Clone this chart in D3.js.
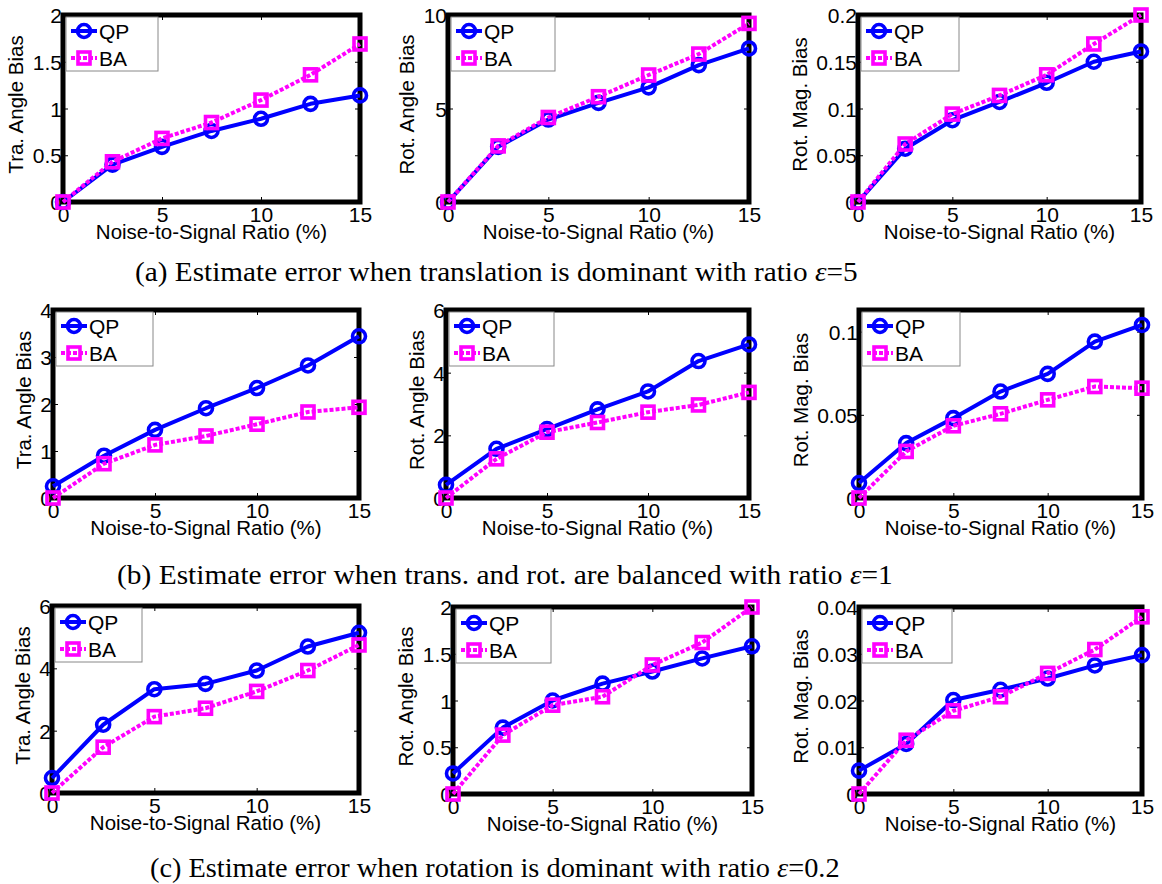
<!DOCTYPE html>
<html>
<head>
<meta charset="utf-8">
<script src="https://cdn.jsdelivr.net/npm/d3@7/dist/d3.min.js"></script>
<style>
  html, body { margin: 0; padding: 0; background: #fff; }
  svg { display: block; }
</style>
</head>
<body>
<script>
// ---------------- DATA ----------------
const xValues = [0, 2.5, 5, 7.5, 10, 12.5, 15];
const xTicks = [0, 5, 10, 15];
const seriesNames = ["QP", "BA"];
const xAxisLabel = "Noise-to-Signal Ratio (%)";
const yAxisLabels = ["Tra. Angle Bias", "Rot. Angle Bias", "Rot. Mag. Bias"];

// (a) translation dominant, ratio 5
const qpTraA = [0, 0.40, 0.59, 0.76, 0.89, 1.05, 1.14];
const baTraA = [0, 0.43, 0.68, 0.85, 1.09, 1.36, 1.69];
const qpRotA = [0, 2.95, 4.41, 5.30, 6.13, 7.32, 8.21];
const baRotA = [0, 3.00, 4.52, 5.63, 6.79, 7.91, 9.55];
const qpMagA = [0, 0.057, 0.0875, 0.107, 0.1275, 0.150, 0.161];
const baMagA = [0, 0.062, 0.094, 0.114, 0.136, 0.169, 0.200];

// (b) balanced, ratio 1
const qpTraB = [0.25, 0.90, 1.45, 1.91, 2.34, 2.82, 3.44];
const baTraB = [0, 0.73, 1.13, 1.32, 1.57, 1.83, 1.93];
const qpRotB = [0.42, 1.57, 2.20, 2.83, 3.40, 4.37, 4.90];
const baRotB = [0, 1.25, 2.10, 2.41, 2.74, 2.97, 3.37];
const qpMagB = [0.009, 0.033, 0.048, 0.064, 0.0746, 0.094, 0.104];
const baMagB = [0, 0.028, 0.0434, 0.0506, 0.059, 0.067, 0.066];

// (c) rotation dominant, ratio 0.2
const qpTraC = [0.48, 2.19, 3.33, 3.50, 3.93, 4.70, 5.14];
const baTraC = [0, 1.47, 2.45, 2.72, 3.26, 3.93, 4.75];
const qpRotC = [0.22, 0.71, 1.00, 1.18, 1.31, 1.45, 1.58];
const baRotC = [0, 0.63, 0.95, 1.04, 1.38, 1.62, 2.00];
const qpMagC = [0.005, 0.0107, 0.0201, 0.0223, 0.0247, 0.0275, 0.0297];
const baMagC = [0, 0.0115, 0.0178, 0.0208, 0.0258, 0.0309, 0.0379];

// y domains and tick values
const yDomains = [[0, 2], [0, 10], [0, 0.2], [0, 4], [0, 6], [0, 0.113], [0, 6], [0, 2], [0, 0.04]];
const yTickValues = [
  [0, 0.5, 1, 1.5, 2], [0, 5, 10], [0, 0.05, 0.1, 0.15, 0.2],
  [0, 1, 2, 3, 4], [0, 2, 4, 6], [0, 0.05, 0.1],
  [0, 2, 4, 6], [0, 0.5, 1, 1.5, 2], [0, 0.01, 0.02, 0.03, 0.04]
];
const yTickLabels = [
  ["0", "0.5", "1", "1.5", "2"], ["0", "5", "10"], ["0", "0.05", "0.1", "0.15", "0.2"],
  ["0", "1", "2", "3", "4"], ["0", "2", "4", "6"], ["0", "0.05", "0.1"],
  ["0", "2", "4", "6"], ["0", "0.5", "1", "1.5", "2"], ["0", "0.01", "0.02", "0.03", "0.04"]
];

const captions = [
  {pre: "(a) Estimate error when translation is dominant with ratio ", post: "=5"},
  {pre: "(b) Estimate error when trans. and rot. are balanced with ratio ", post: "=1"},
  {pre: "(c) Estimate error when rotation is dominant with ratio ", post: "=0.2"}
];

const qpSeries = [qpTraA, qpRotA, qpMagA, qpTraB, qpRotB, qpMagB, qpTraC, qpRotC, qpMagC];
const baSeries = [baTraA, baRotA, baMagA, baTraB, baRotB, baMagB, baTraC, baRotC, baMagC];

// ---------------- LAYOUT ----------------
const boxes = [
  {l: 63, r: 360, t: 15, b: 202, lw: 92},
  {l: 448, r: 749, t: 15, b: 202, lw: 104},
  {l: 858, r: 1141, t: 15, b: 202, lw: 98},
  {l: 53, r: 359, t: 310, b: 498, lw: 97},
  {l: 446, r: 749, t: 310, b: 498, lw: 105},
  {l: 859, r: 1142, t: 310, b: 498, lw: 98},
  {l: 52, r: 359, t: 606, b: 793, lw: 87},
  {l: 453, r: 752, t: 607, b: 794, lw: 95},
  {l: 859, r: 1142, t: 607, b: 794, lw: 90}
];
const captionPos = [
  {x1: 135, x2: 858, y: 281},
  {x1: 117, x2: 893, y: 584},
  {x1: 150, x2: 840, y: 877}
];

const BLUE = "#0000ff", MAG = "#ff00ff";
const SANS = "'Liberation Sans', Arial, Helvetica, sans-serif";
const SERIF = "'Liberation Serif', 'Times New Roman', serif";

const svg = d3.select("body").append("svg").attr("width", 1162).attr("height", 884);
svg.append("rect").attr("width", 1162).attr("height", 884).attr("fill", "#fff");

function drawCircle(g, cx, cy) {
  g.append("circle").attr("cx", cx).attr("cy", cy).attr("r", 6.5)
    .attr("fill", "none").attr("stroke", BLUE).attr("stroke-width", 3.6);
}
function drawSquare(g, cx, cy) {
  g.append("rect").attr("x", cx - 6).attr("y", cy - 6).attr("width", 12).attr("height", 12)
    .attr("fill", "none").attr("stroke", MAG).attr("stroke-width", 3.6);
}

boxes.forEach((p, i) => {
  const g = svg.append("g");
  const x = d3.scaleLinear().domain([0, 15]).range([p.l, p.r]);
  const y = d3.scaleLinear().domain(yDomains[i]).range([p.b, p.t]);
  const labels = yTickLabels[i];

  // axes
  const gx = g.append("g").attr("transform", `translate(0,${p.b})`)
    .call(d3.axisBottom(x).tickValues(xTicks).tickFormat(d3.format("d"))
      .tickSizeInner(-5).tickSizeOuter(0).tickPadding(5));
  const gy = g.append("g").attr("transform", `translate(${p.l},0)`)
    .call(d3.axisLeft(y).tickValues(yTickValues[i]).tickFormat((d, k) => labels[k])
      .tickSizeInner(-5).tickSizeOuter(0).tickPadding(1));
  g.append("g").attr("transform", `translate(0,${p.t})`)
    .call(d3.axisTop(x).tickValues(xTicks).tickFormat("").tickSizeInner(-5).tickSizeOuter(0));
  g.append("g").attr("transform", `translate(${p.r},0)`)
    .call(d3.axisRight(y).tickValues(yTickValues[i]).tickFormat("").tickSizeInner(-5).tickSizeOuter(0));
  g.selectAll(".domain").remove();
  g.selectAll(".tick line").attr("stroke", "#000").attr("stroke-width", 1);
  g.selectAll(".tick text").attr("font-family", SANS).attr("font-size", 21).attr("fill", "#000");
  gy.selectAll(".tick text").attr("dy", "0.36em");

  // axis labels
  let maxW = 0;
  gy.selectAll(".tick text").each(function () { maxW = Math.max(maxW, this.getComputedTextLength()); });
  g.append("text").attr("x", (p.l + p.r) / 2).attr("y", p.b + 37)
    .attr("text-anchor", "middle").attr("font-family", SANS).attr("font-size", 20.5)
    .text(xAxisLabel);
  const ly = (p.t + p.b) / 2 - 4;
  const lx = p.l - maxW - 4 - 14;
  g.append("text").attr("transform", `translate(${lx},${ly}) rotate(-90)`)
    .attr("text-anchor", "middle").attr("dominant-baseline", "central")
    .attr("font-family", SANS).attr("font-size", 20.5)
    .text(yAxisLabels[i % 3]);

  // frame
  g.append("rect").attr("x", p.l).attr("y", p.t).attr("width", p.r - p.l).attr("height", p.b - p.t)
    .attr("fill", "none").attr("stroke", "#000").attr("stroke-width", 5);

  // legend
  const lgx = p.l + 3, lgy = p.t + 2;
  const lg = g.append("g");
  lg.append("rect").attr("x", lgx).attr("y", lgy).attr("width", p.lw).attr("height", 54)
    .attr("fill", "#fff").attr("stroke", "#888").attr("stroke-width", 1);
  const rows = [lgy + 14, lgy + 41];
  lg.append("line").attr("x1", lgx + 5).attr("x2", lgx + 31).attr("y1", rows[0]).attr("y2", rows[0])
    .attr("stroke", BLUE).attr("stroke-width", 4);
  drawCircle(lg, lgx + 18, rows[0]);
  lg.append("line").attr("x1", lgx + 5).attr("x2", lgx + 31).attr("y1", rows[1]).attr("y2", rows[1])
    .attr("stroke", MAG).attr("stroke-width", 4).attr("stroke-dasharray", "4,2");
  drawSquare(lg, lgx + 18, rows[1]);
  seriesNames.forEach((n, k) => {
    lg.append("text").attr("x", lgx + 33).attr("y", rows[k]).attr("dy", "0.36em")
      .attr("font-family", SANS).attr("font-size", 21).text(n);
  });

  // series
  const line = d3.line().x((d, k) => x(xValues[k])).y(d => y(d));
  const qp = qpSeries[i], ba = baSeries[i];
  g.append("path").attr("d", line(qp)).attr("fill", "none").attr("stroke", BLUE)
    .attr("stroke-width", 4).attr("stroke-linejoin", "round");
  qp.forEach((v, k) => drawCircle(g, x(xValues[k]), y(v)));
  g.append("path").attr("d", line(ba)).attr("fill", "none").attr("stroke", MAG)
    .attr("stroke-width", 4).attr("stroke-dasharray", "4,2");
  ba.forEach((v, k) => drawSquare(g, x(xValues[k]), y(v)));
});

// captions
captions.forEach((c, i) => {
  const cp = captionPos[i];
  const t = svg.append("text").attr("x", 0).attr("y", 0)
    .attr("font-family", SERIF).attr("font-size", 28).attr("fill", "#000");
  t.append("tspan").text(c.pre);
  t.append("tspan").attr("font-style", "italic").text("\u03b5");
  t.append("tspan").text(c.post);
  const w = t.node().getComputedTextLength();
  const sx = (cp.x2 - cp.x1) / w;
  t.attr("transform", `translate(${cp.x1},${cp.y}) scale(${sx},1)`);
});
</script>
</body>
</html>
